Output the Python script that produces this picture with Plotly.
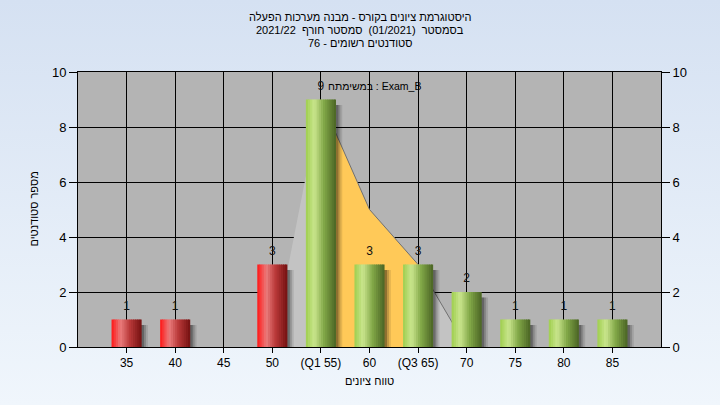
import urllib.parse
import plotly.graph_objects as go

# ---------------- data ----------------
scores = [35, 40, 45, 50, 55, 60, 65, 70, 75, 80, 85]
tick_labels = ["35", "40", "45", "50", "(Q1 55)", "60", "(Q3 65)", "70", "75", "80", "85"]
counts = [1, 1, 0, 3, 9, 3, 3, 2, 1, 1, 1]
pass_score = 55
curve_x = [50, 55, 60, 65, 70]
curve_y = [0, 9, 5, 3, 0]
q1, q3 = 55, 65

title_lines = [
    "היסטוגרמת ציונים בקורס - מבנה מערכות הפעלה",
    "בסמסטר\u00a0 (01/2021)\u00a0 סמסטר חורף\u00a0 2021/22",
    "סטודנטים רשומים - 76",
]
x_title = "טווח ציונים"
y_title = "מספר סטודנטים"
exam_label = "במשימתח : Exam_B"

# ---------------- styling helpers ----------------


def interp(stops, t):
    for (t0, c0), (t1, c1) in zip(stops[:-1], stops[1:]):
        if t0 <= t <= t1:
            f = (t - t0) / (t1 - t0) if t1 > t0 else 0
            c = [round(a + (b - a) * f) for a, b in zip(c0, c1)]
            return "rgb(%d,%d,%d)" % tuple(c)
    c = stops[-1][1]
    return "rgb(%d,%d,%d)" % tuple(c)


green_stops = [(0, (158, 206, 78)), (0.28, (202, 230, 142)), (0.6, (130, 168, 72)), (1, (74, 100, 36))]
red_stops = [(0, (255, 22, 22)), (0.3, (234, 124, 124)), (0.6, (186, 58, 58)), (1, (116, 16, 16))]

FONT = "Liberation Sans, DejaVu Sans, Arial, sans-serif"
BAR_W = 3.1
N = 14
LABEL_PAD = 0.25

fig = go.Figure()

# distribution area (grey outside quartiles, yellow between) - on main axes (below bars)
fig.add_trace(go.Scatter(x=curve_x, y=curve_y, fill="toself", fillcolor="#c3c3c3",
                         mode="lines", line=dict(width=0), hoverinfo="skip"))
iqr_x = [q1] + [x for x in curve_x if q1 <= x <= q3] + [q3]
iqr_y = [0] + [y for x, y in zip(curve_x, curve_y) if q1 <= x <= q3] + [0]
fig.add_trace(go.Scatter(x=iqr_x, y=iqr_y, fill="toself", fillcolor="#ffc958",
                         mode="lines", line=dict(width=0), hoverinfo="skip"))
ox = [x for x in curve_x if x >= q1]
oy = [y for x, y in zip(curve_x, curve_y) if x >= q1]
fig.add_trace(go.Scatter(x=ox, y=oy, mode="lines", line=dict(color="#707070", width=1),
                         hoverinfo="skip"))

# shadows (overlay axes so they sit above the area)
for dx, a in [(0.65, 0.10), (0.45, 0.16), (0.25, 0.26)]:
    fig.add_trace(go.Bar(x=scores, y=[max(c - 0.2, 0) for c in counts], width=BAR_W, yaxis="y2",
                         offset=-BAR_W / 2 + dx,
                         marker=dict(color="rgba(0,0,0,%g)" % a, line=dict(width=0)),
                         hoverinfo="skip"))

# bars with cylindrical gradient (vertical strips)
for i in range(N):
    t = (i + 0.5) / N
    cols = [interp(red_stops if s < pass_score else green_stops, t) for s in scores]
    w = BAR_W / N * (1.4 if i < N - 1 else 1.0)
    fig.add_trace(go.Bar(x=scores, y=counts, width=w, offset=-BAR_W / 2 + i * BAR_W / N, yaxis="y2",
                         marker=dict(color=cols, line=dict(width=0)), hoverinfo="skip"))

# value labels
lx = [s for s, c in zip(scores, counts) if c > 0]
ly = [c for c in counts if c > 0]
fig.add_trace(go.Scatter(x=lx, y=[c + LABEL_PAD for c in ly], mode="text", text=[str(c) for c in ly],
                         yaxis="y2", textposition="top center",
                         textfont=dict(size=12, color="#111", family=FONT),
                         cliponaxis=False, hoverinfo="skip"))

# background gradient
svg = ("<svg xmlns='http://www.w3.org/2000/svg' width='720' height='405' preserveAspectRatio='none'>"
       "<defs><linearGradient id='g' x1='0' y1='0' x2='0' y2='1'>"
       "<stop offset='0' stop-color='#d5e1f2'/><stop offset='1' stop-color='#f0f6fc'/>"
       "</linearGradient></defs><rect width='720' height='405' fill='url(#g)'/></svg>")
src = "data:image/svg+xml;charset=utf-8," + urllib.parse.quote(svg)

L, R, T, B = 78, 59, 72, 58
PW, PH = 720 - L - R, 405 - T - B

annotations = []
for line, py in zip(title_lines, [17, 30, 43]):
    annotations.append(dict(text=line, xref="paper", yref="paper",
                            x=(360 - L) / PW, y=(405 - B - py) / PH, xanchor="center", yanchor="middle",
                            showarrow=False, font=dict(size=11, color="#000", family=FONT)))
annotations.append(dict(text=x_title, xref="paper", yref="paper", x=0.5,
                        y=(405 - B - 381) / PH, xanchor="center", yanchor="middle", showarrow=False,
                        font=dict(size=11, color="#000", family=FONT)))
annotations.append(dict(text=y_title, xref="paper", yref="paper", x=(33 - L) / PW, y=0.5,
                        xanchor="center", yanchor="middle", textangle=-90, showarrow=False,
                        font=dict(size=11, color="#000", family=FONT)))
annotations.append(dict(text=exam_label, xref="paper", yref="paper", x=(374 - L) / PW,
                        y=(405 - B - 86) / PH, xanchor="center", yanchor="middle", showarrow=False,
                        font=dict(size=10.5, color="#000", family=FONT)))

axis_common = dict(showline=True, linecolor="#000", linewidth=1, ticks="outside", tickcolor="#000",
                   zeroline=False, fixedrange=True)

fig.update_layout(
    width=720, height=405,
    margin=dict(l=L, r=R, t=T, b=B),
    paper_bgcolor="#e3ebf7", plot_bgcolor="#b4b4b4",
    showlegend=False, barmode="overlay",
    font=dict(family=FONT, color="#000"),
    xaxis=dict(range=[30, 90], tickvals=scores, ticktext=tick_labels, showgrid=True, gridcolor="#000",
               gridwidth=1, mirror=True, ticklen=5, tickfont=dict(size=12, color="#000"), **axis_common),
    yaxis=dict(range=[0, 10], dtick=2, showgrid=True, gridcolor="#000", gridwidth=1, ticklen=8,
               tickfont=dict(size=13, color="#000"), **axis_common),
    yaxis2=dict(range=[0, 10], dtick=2, overlaying="y", side="right", showgrid=False, ticklen=8,
                tickfont=dict(size=13, color="#000"), **axis_common),
    images=[dict(source=src, xref="paper", yref="paper", x=-L / PW, y=1 + T / PH,
                 sizex=720 / PW, sizey=405 / PH, sizing="stretch", layer="below",
                 xanchor="left", yanchor="top")],
    shapes=[dict(type="rect", xref="paper", yref="paper", x0=0, x1=1, y0=0, y1=1,
                 fillcolor="#b4b4b4", line=dict(width=0), layer="below")],
    annotations=annotations,
)

fig.write_html("out.html", config={"displayModeBar": False},
               post_script="document.body.style.margin='0';document.body.style.overflow='hidden';")
